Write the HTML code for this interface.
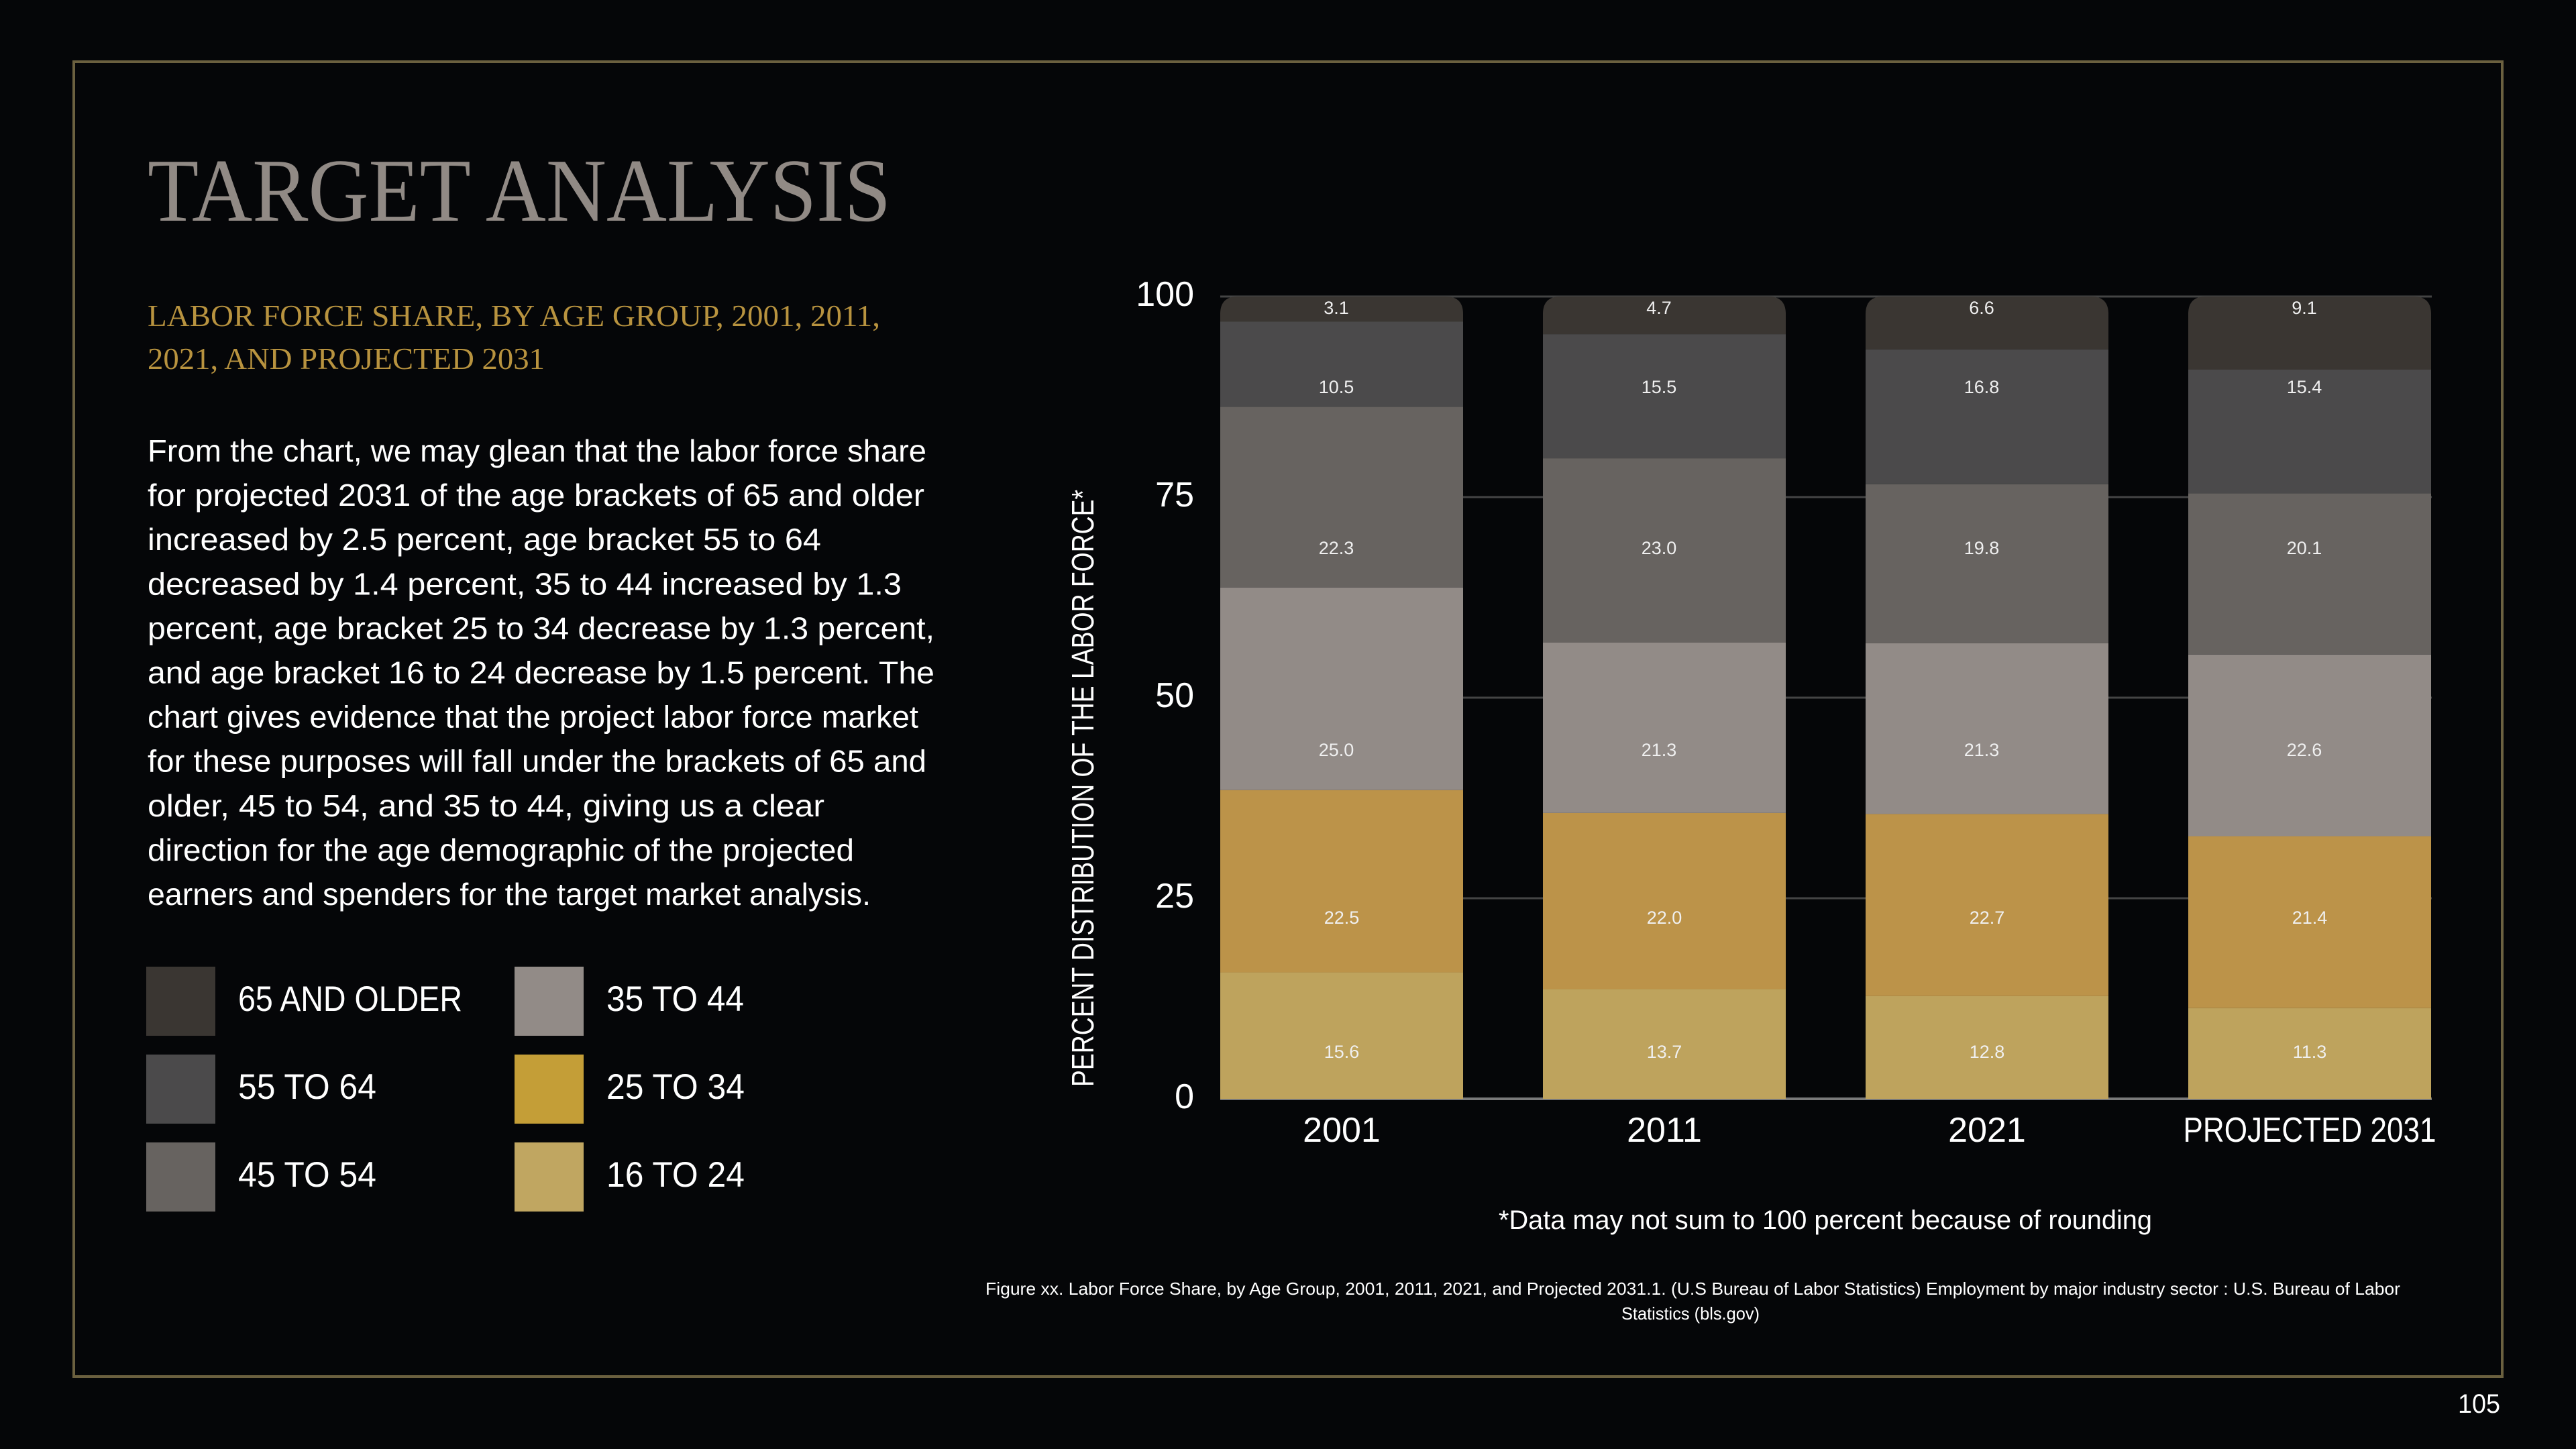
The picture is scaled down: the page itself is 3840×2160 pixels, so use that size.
<!DOCTYPE html>
<html><head><meta charset="utf-8"><style>
html,body{margin:0;padding:0;background:#050608;}
svg{display:block}
text{font-family:"Liberation Sans",sans-serif}
.serif{font-family:"Liberation Serif",serif}
</style></head><body>
<svg id="page" width="3840" height="2160" viewBox="0 0 3840 2160" xmlns="http://www.w3.org/2000/svg">
<rect x="0" y="0" width="3840" height="2160" fill="#050608"/>
<rect x="110" y="92" width="3620" height="1960" fill="none" stroke="#6b603f" stroke-width="4"/>
<text class="serif" x="220" y="329" font-size="134" fill="#918a85" textLength="1108" lengthAdjust="spacingAndGlyphs">TARGET ANALYSIS</text>
<g class="serif" fill="#b8933f" font-size="46">
<text class="serif" x="220" y="486" textLength="1092" lengthAdjust="spacingAndGlyphs">LABOR FORCE SHARE, BY AGE GROUP, 2001, 2011,</text>
<text class="serif" x="220" y="550" textLength="592" lengthAdjust="spacingAndGlyphs">2021, AND PROJECTED 2031</text>
</g>
<g id="para" fill="#ffffff" font-size="46"></g>
<g id="legend"></g>
<g id="chart"></g>
<text x="2234" y="1832" font-size="40" fill="#ffffff" textLength="974" lengthAdjust="spacingAndGlyphs">*Data may not sum to 100 percent because of rounding</text>
<text x="1469" y="1930" font-size="26" fill="#ffffff" textLength="2109" lengthAdjust="spacingAndGlyphs">Figure xx. Labor Force Share, by Age Group, 2001, 2011, 2021, and Projected 2031.1. (U.S Bureau of Labor Statistics) Employment by major industry sector : U.S. Bureau of Labor</text>
<text x="2417" y="1967" font-size="26" fill="#ffffff" textLength="206" lengthAdjust="spacingAndGlyphs">Statistics (bls.gov)</text>
<text x="3664" y="2106" font-size="40" fill="#ffffff" textLength="63" lengthAdjust="spacingAndGlyphs">105</text>
</svg>
<script>
const categories = ["2001", "2011", "2021", "PROJECTED 2031"];
const seriesNames = ["16 TO 24", "25 TO 34", "35 TO 44", "45 TO 54", "55 TO 64", "65 AND OLDER"];
const age16to24 = [15.6, 13.7, 12.8, 11.3];
const age25to34 = [22.5, 22.0, 22.7, 21.4];
const age35to44 = [25.0, 21.3, 21.3, 22.6];
const age45to54 = [22.3, 23.0, 19.8, 20.1];
const age55to64 = [10.5, 15.5, 16.8, 15.4];
const age65plus = [3.1, 4.7, 6.6, 9.1];
const yTicks = [0, 25, 50, 75, 100];

const NS = "http://www.w3.org/2000/svg";
function mk(tag, attrs, parent){const e=document.createElementNS(NS,tag);for(const k in attrs)e.setAttribute(k,attrs[k]);parent.appendChild(e);return e;}

const paraLines = [
["From the chart, we may glean that the labor force share",1161],
["for projected 2031 of the age brackets of 65 and older",1158],
["increased by 2.5 percent, age bracket 55 to 64",1004],
["decreased by 1.4 percent, 35 to 44 increased by 1.3",1124],
["percent, age bracket 25 to 34 decrease by 1.3 percent,",1173],
["and age bracket 16 to 24 decrease by 1.5 percent. The",1173],
["chart gives evidence that the project labor force market",1149],
["for these purposes will fall under the brackets of 65 and",1161],
["older, 45 to 54, and 35 to 44, giving us a clear",1009],
["direction for the age demographic of the projected",1053],
["earners and spenders for the target market analysis.",1078]];
const para=document.getElementById('para');
paraLines.forEach((l,i)=>{
  const t=mk('text',{x:220,y:688+i*66.1,textLength:l[1],lengthAdjust:'spacingAndGlyphs'},para);
  
  
  t.textContent=l[0];
});

const barColors = ["#bea35d","#bc9349","#928b87","#676360","#4b4a4b","#3a3632"];
const legendColors = {"65 AND OLDER":"#3a3632","55 TO 64":"#4b4a4b","45 TO 54":"#676360","35 TO 44":"#928b87","25 TO 34":"#c49e37","16 TO 24":"#c0a661"};
const legendOrder = [["65 AND OLDER","55 TO 64","45 TO 54"],["35 TO 44","25 TO 34","16 TO 24"]];
const legendWidths = {"65 AND OLDER":334,"55 TO 64":206,"45 TO 54":206,"35 TO 44":205,"25 TO 34":206,"16 TO 24":206};
const legend=document.getElementById('legend');
legendOrder.forEach((col,ci)=>{
  col.forEach((name,ri)=>{
    const g=mk('g',{},legend);
    
    
    const x=ci?767:218, y=1441+ri*131;
    const r=mk('rect',{x:x,y:y,width:103,height:103,fill:legendColors[name]},g);
    
    
    const t=mk('text',{x:x+137,y:y+66,'font-size':53,fill:'#ffffff',textLength:legendWidths[name],lengthAdjust:'spacingAndGlyphs'},g);
    
    
    t.textContent=name;
  });
});

const chart=document.getElementById('chart');
const X0=1819, X1=3625, Y0=1638, Y100=442, BAND=481, BARW=362;
function yScale(v){return Y0-(v/100)*(Y0-Y100);}
function xScale(i){return X0+i*BAND;}
yTicks.forEach(t=>{
  const l=mk('line',{x1:X0,x2:X1,y1:yScale(t),y2:yScale(t),stroke:t===0?'#7a7a7a':'#444444','stroke-width':t===0?4:3},chart);
  
  
  const tx=mk('text',{x:1780,y:yScale(t)+14,'font-size':52,fill:'#ffffff','text-anchor':'end'},chart);
  
  
  tx.textContent=t;
});
const yt=mk('text',{x:0,y:0,'font-size':46,fill:'#ffffff','text-anchor':'middle',transform:'translate(1630,1175) rotate(-90)',textLength:890,lengthAdjust:'spacingAndGlyphs'},chart);


yt.textContent='PERCENT DISTRIBUTION OF THE LABOR FORCE*';

const series=[age16to24,age25to34,age35to44,age45to54,age55to64,age65plus];
const labelRowY=[1567,1367,1117,816,576,458];
const R=26;
categories.forEach((cat,i)=>{
  const g=mk('g',{},chart);
  
  
  const total=series.reduce((s,a)=>s+a[i],0);
  let cum=0;
  const x=xScale(i);
  series.forEach((arr,si)=>{
    const v=arr[i]/total*100;
    const yb=yScale(cum), yt2=yScale(cum+v);
    cum+=v;
    let seg;
    if(si===series.length-1){
      const h=yb-yt2, r=Math.min(R,h);
      seg=mk('path',{d:`M${x},${yb} L${x},${yt2+r} Q${x},${yt2} ${x+r},${yt2} L${x+BARW-r},${yt2} Q${x+BARW},${yt2} ${x+BARW},${yt2+r} L${x+BARW},${yb} Z`,fill:barColors[si]},g);
    } else {
      seg=mk('rect',{x:x,y:yt2,width:BARW,height:yb-yt2,fill:barColors[si]},g);
    }
    
    
    const lt=mk('text',{x:x+BARW/2-(si>=2?8:0),y:labelRowY[si]+10,'font-size':27,fill:'#f0f0f0','text-anchor':'middle'},g);
    
    
    lt.textContent=arr[i].toFixed(1);
  });
  const xa={x:x+BARW/2,y:1702,'font-size':52,fill:'#ffffff','text-anchor':'middle'};
  if(cat.length>6){xa.textLength=377;xa.lengthAdjust='spacingAndGlyphs';}
  const xl=mk('text',xa,chart);
  
  
  xl.textContent=cat;
});
</script>
</body></html>
